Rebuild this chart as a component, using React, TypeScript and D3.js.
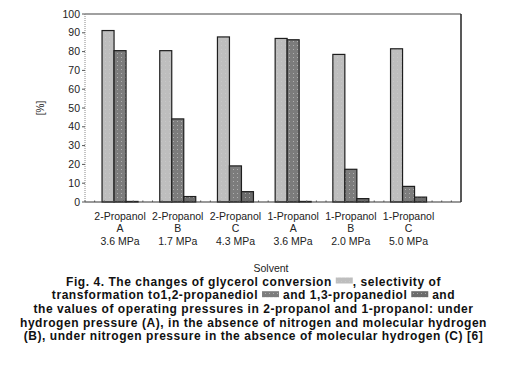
import React, { useEffect, useRef } from "react";
import * as d3 from "d3";

const categories = ["2-Propanol|A|3.6 MPa", "2-Propanol|B|1.7 MPa", "2-Propanol|C|4.3 MPa", "1-Propanol|A|3.6 MPa", "1-Propanol|B|2.0 MPa", "1-Propanol|C|5.0 MPa"];
const conversion = [91.2, 80.5, 87.8, 87.0, 78.5, 81.5];
const sel12 = [80.5, 44.2, 19.2, 86.3, 17.4, 8.3];
const sel13 = [0.3, 2.9, 5.5, 0.3, 1.8, 2.6];
const yTicks = [0, 10, 20, 30, 40, 50, 60, 70, 80, 90, 100];
const captionLines = [
  ["Fig. 4. The changes of glycerol conversion ", "#s0", ", selectivity of"],
  ["transformation to1,2-propanediol ", "#s1", " and 1,3-propanediol ", "#s2", " and"],
  ["the values of operating pressures in 2-propanol and 1-propanol: under"],
  ["hydrogen pressure (A), in the absence of nitrogen and molecular hydrogen"],
  ["(B), under nitrogen pressure in the absence of molecular hydrogen (C) [6]"],
];

export default function App() {
  const ref = useRef<SVGSVGElement>(null);
  useEffect(() => {
    const svg = d3.select(ref.current);
    svg.selectAll("*").remove();
    const W = 507, H = 379;
    const left = 85, right = 461, top = 14, bottom = 202;
    const defs = svg.append("defs");
    const mkPat = (id: string, bg: string, dot: string) => {
      const p = defs.append("pattern").attr("id", id).attr("patternUnits", "userSpaceOnUse").attr("width", 4).attr("height", 4);
      p.append("rect").attr("width", 4).attr("height", 4).attr("fill", bg);
      p.append("rect").attr("x", 1).attr("y", 1).attr("width", 1).attr("height", 1).attr("fill", dot);
    };
    mkPat("p0", "#bebebe", "#c8c8c8");
    mkPat("p1", "#7c7c7c", "#b0b0b0");
    mkPat("p2", "#6c6c6c", "#a8a8a8");
    const fills = ["url(#p0)", "url(#p1)", "url(#p2)"];

    svg.append("rect").attr("width", W).attr("height", H).attr("fill", "#fff");

    const y = d3.scaleLinear().domain([0, 100]).range([bottom, top]);
    const x0 = d3.scaleBand().domain(categories).range([91.2, 437.4]).paddingInner(0.376).paddingOuter(0.188);
    const x1 = d3.scaleBand().domain(["0", "1", "2"]).range([0, x0.bandwidth()]);
    const series = [conversion, sel12, sel13];

    // frame
    svg.append("line").attr("x1", left).attr("x2", right).attr("y1", top).attr("y2", top).attr("stroke", "#808080").attr("stroke-width", 1.5);
    svg.append("line").attr("x1", right).attr("x2", right).attr("y1", top).attr("y2", bottom).attr("stroke", "#222").attr("stroke-width", 1.5);
    svg.append("line").attr("x1", left).attr("x2", left).attr("y1", top).attr("y2", bottom).attr("stroke", "#888").attr("stroke-width", 1).attr("stroke-dasharray", "1,1");

    const g = svg.append("g");
    categories.forEach((c, i) => {
      series.forEach((s, k) => {
        const bx = (x0(c) as number) + (x1(String(k)) as number);
        g.append("rect").attr("x", bx).attr("y", y(s[i])).attr("width", x1.bandwidth()).attr("height", bottom - y(s[i]))
          .attr("fill", fills[k]).attr("stroke", "#1e1e1e").attr("stroke-width", 1.2);
      });
    });

    // bottom axis
    svg.append("line").attr("x1", left).attr("x2", right).attr("y1", bottom).attr("y2", bottom).attr("stroke", "#333").attr("stroke-width", 1.2);
    const minor = d3.range(left, right, 376 / 39);
    svg.append("g").selectAll("line").data(minor).join("line")
      .attr("x1", (d) => d).attr("x2", (d) => d).attr("y1", bottom).attr("y2", bottom - 1.5).attr("stroke", "#555");

    // y axis
    const yg = svg.append("g").attr("font-family", "Liberation Sans, Arial, sans-serif").attr("font-size", 10.5).attr("fill", "#222");
    yTicks.forEach((t) => {
      yg.append("line").attr("x1", left - 3).attr("x2", left).attr("y1", y(t)).attr("y2", y(t)).attr("stroke", "#555");
      yg.append("text").attr("x", left - 5).attr("y", y(t)).attr("dy", "0.35em").attr("text-anchor", "end").text(t);
    });
    svg.append("text").attr("transform", "translate(44,108) rotate(-90)").attr("text-anchor", "middle")
      .attr("font-family", "Liberation Sans, Arial, sans-serif").attr("font-size", 10).attr("fill", "#222").text("[%]");

    // x labels
    const xg = svg.append("g").attr("font-family", "Liberation Sans, Arial, sans-serif").attr("font-size", 10.5).attr("fill", "#222").attr("text-anchor", "middle");
    categories.forEach((c) => {
      const cx = (x0(c) as number) + x0.bandwidth() / 2;
      c.split("|").forEach((ln, j) => {
        xg.append("text").attr("x", cx).attr("y", 219.5 + j * 12.7).text(ln);
      });
    });
    xg.append("text").attr("x", (left + right) / 2 - 2).attr("y", 272).text("Solvent");

    // caption
    const cap = svg.append("g").attr("font-family", "Liberation Sans, Arial, sans-serif").attr("font-weight", "bold").attr("font-size", 12).attr("letter-spacing", 0.55).attr("fill", "#111");
    const swW = 17, swH = 6;
    captionLines.forEach((parts, li) => {
      const by = 285.5 + li * 13.7;
      const items: { kind: string; w: number; node?: any; s?: string }[] = [];
      parts.forEach((p) => {
        if (p.startsWith("#s")) items.push({ kind: "sw", w: swW, s: p });
        else {
          const t = cap.append("text").attr("y", by).attr("xml:space", "preserve").style("white-space", "pre").text(p);
          const w = (t.node() as SVGTextElement).getComputedTextLength();
          items.push({ kind: "t", w, node: t });
        }
      });
      const total = d3.sum(items, (d) => d.w);
      let cx = W / 2 - total / 2;
      items.forEach((it) => {
        if (it.kind === "t") it.node.attr("x", cx);
        else {
          const k = +(it.s as string).slice(2);
          cap.append("rect").attr("x", cx).attr("y", by - 8).attr("width", swW).attr("height", swH).attr("fill", fills[k]);
        }
        cx += it.w;
      });
    });
  }, []);
  return <svg ref={ref} width={507} height={379} style={{ display: "block", position: "absolute", left: 0, top: 0 }} />;
}
